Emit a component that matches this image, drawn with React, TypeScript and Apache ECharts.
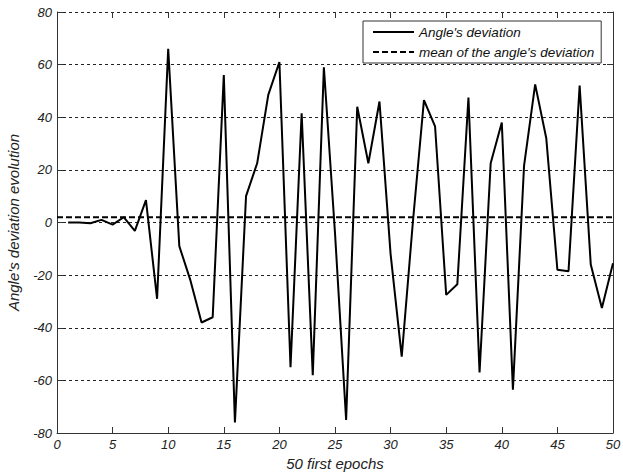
import React, { useEffect, useRef } from "react";
import * as echarts from "echarts";

const epochs = [1,2,3,4,5,6,7,8,9,10,11,12,13,14,15,16,17,18,19,20,21,22,23,24,25,26,27,28,29,30,31,32,33,34,35,36,37,38,39,40,41,42,43,44,45,46,47,48,49,50];
const deviation = [0,0,-0.3,1,-0.8,2,-3.2,8.5,-29,66,-9,-22,-38,-36,56,-76,10,22.5,48.5,61,-55,41.5,-58,59,-4,-75,44,22.5,46,-12,-51,0,46.5,36.5,-27.5,-23.5,47.5,-57,22.5,38,-63.5,21.5,52.5,32,-18,-18.5,52,-16,-32.5,-15.5];
const meanDeviation = 2;
const meanRange = [0, 50];
const xTicks = { min: 0, max: 50, interval: 5 };
const yTicks = { min: -80, max: 80, interval: 20 };
const seriesNames = ["Angle's deviation", "mean of the angle's deviation"];
const xTitle = "50 first epochs";
const yTitle = "Angle's deviation evolution";

const FONT = "'Liberation Sans', Arial, sans-serif";

export default function App() {
  const ref = useRef<HTMLDivElement>(null);
  useEffect(() => {
    if (!ref.current) return;
    const chart = echarts.init(ref.current, null, { renderer: "svg" });
    const labelStyle = { fontFamily: FONT, fontStyle: "italic", fontSize: 13, color: "#222" };
    chart.setOption({
      animation: false,
      backgroundColor: "#fff",
      grid: { left: 57, right: 10, top: 12, bottom: 41, containLabel: false, outerBoundsMode: "none" },
      legend: {
        data: seriesNames,
        orient: "vertical",
        left: 363,
        top: 21,
        padding: [4, 7, 4, 9],
        itemGap: 6,
        itemWidth: 41,
        itemHeight: 14,
        backgroundColor: "#fff",
        borderColor: "#333",
        borderWidth: 1,
        itemStyle: { color: "transparent", borderWidth: 0, opacity: 0 },
        textStyle: { fontFamily: FONT, fontStyle: "italic", fontSize: 13.5, color: "#111" },
      },
      xAxis: [
        {
          type: "value",
          ...xTicks,
          name: xTitle,
          nameLocation: "middle",
          nameGap: 20,
          nameTextStyle: { fontFamily: FONT, fontStyle: "italic", fontSize: 15, color: "#222" },
          axisLine: { show: true, onZero: false, lineStyle: { color: "#333", width: 1 } },
          axisTick: { show: true, inside: true, length: 6, lineStyle: { color: "#333" } },
          axisLabel: { ...labelStyle, margin: 5 },
          splitLine: { show: false },
        },
        {
          type: "value",
          position: "top",
          ...xTicks,
          axisLine: { show: false, onZero: false },
          axisTick: { show: true, inside: true, length: 6, lineStyle: { color: "#333" } },
          axisLabel: { show: false },
          splitLine: { show: false },
        },
      ],
      yAxis: [
        {
          type: "value",
          ...yTicks,
          name: yTitle,
          nameLocation: "middle",
          nameGap: 36,
          nameTextStyle: { fontFamily: FONT, fontStyle: "italic", fontSize: 15, color: "#222" },
          axisLine: { show: true, onZero: false, lineStyle: { color: "#333", width: 1 } },
          axisTick: { show: true, inside: true, length: 6, lineStyle: { color: "#333" } },
          axisLabel: { ...labelStyle, margin: 5 },
          splitLine: { show: true, lineStyle: { color: "#222", width: 1, type: [3, 3] } },
        },
        {
          type: "value",
          position: "right",
          ...yTicks,
          axisLine: { show: true, onZero: false, lineStyle: { color: "#333", width: 1 } },
          axisTick: { show: true, inside: true, length: 6, lineStyle: { color: "#333" } },
          axisLabel: { show: false },
          splitLine: { show: false },
        },
      ],
      series: [
        {
          name: seriesNames[0],
          type: "line",
          xAxisIndex: 0,
          yAxisIndex: 0,
          data: epochs.map((e, i) => [e, deviation[i]]),
          symbol: "none",
          lineStyle: { color: "#000", width: 2 },
          itemStyle: { color: "#000" },
          z: 3,
        },
        {
          name: seriesNames[1],
          type: "line",
          xAxisIndex: 0,
          yAxisIndex: 0,
          data: meanRange.map((x) => [x, meanDeviation]),
          symbol: "none",
          lineStyle: { color: "#000", width: 2, type: [6, 3] },
          itemStyle: { color: "#000" },
          z: 2,
        },
      ],
    });
    return () => chart.dispose();
  }, []);
  return (
    <div
      ref={ref}
      style={{ position: "fixed", left: 0, top: 0, width: 623, height: 474, background: "#fff" }}
    />
  );
}
